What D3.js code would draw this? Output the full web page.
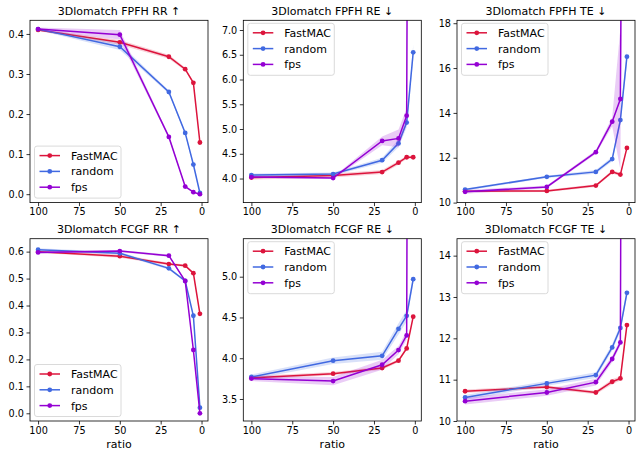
<!DOCTYPE html>
<html>
<head>
<meta charset="utf-8">
<script src="https://cdn.jsdelivr.net/npm/d3@7"></script>
<style>
  body { margin: 0; background: #fff; }
  svg { display: block; font-family: "DejaVu Sans", sans-serif; }
  .tick text { fill: #000; }
</style>
</head>
<body>
<svg id="chart" width="636" height="451"></svg>
<script>
'use strict'

// x values (sampling ratio, %)
const ratios = [100, 50, 20, 10, 5, 1]
const seriesNames = ["FastMAC", "random", "fps"]
const xTicks = [100, 75, 50, 25, 0]

// 3Dlomatch FPFH RR
const fpfhRR_fastmac = [0.410, 0.379, 0.343, 0.312, 0.278, 0.129]
const fpfhRR_random = [0.412, 0.368, 0.255, 0.153, 0.074, 0.003]
const fpfhRR_fps = [0.412, 0.398, 0.143, 0.019, 0.005, 0.000]
const fpfhRR_fastmacStd = [0.003, 0.006, 0.005, 0.004, 0.003, 0.003]
const fpfhRR_randomStd = [0.003, 0.008, 0.004, 0.004, 0.003, 0.002]
const fpfhRR_fpsStd = [0.004, 0.012, 0.004, 0.003, 0.002, 0.001]

// 3Dlomatch FPFH RE
const fpfhRE_fastmac = [4.02, 4.06, 4.13, 4.32, 4.43, 4.43]
const fpfhRE_random = [4.07, 4.09, 4.37, 4.71, 5.13, 6.55]
const fpfhRE_fps = [4.03, 4.01, 4.76, 4.81, 5.27, 40.0]
const fpfhRE_fastmacStd = [0.04, 0.04, 0.04, 0.04, 0.03, 0.03]
const fpfhRE_randomStd = [0.03, 0.03, 0.05, 0.08, 0.10, 0.15]
const fpfhRE_fpsStd = [0.02, 0.02, 0.09, 0.18, 0.15, 5.0]

// 3Dlomatch FPFH TE
const fpfhTE_fastmac = [10.51, 10.52, 10.76, 11.37, 11.25, 12.44]
const fpfhTE_random = [10.58, 11.15, 11.37, 11.94, 13.68, 16.51]
const fpfhTE_fps = [10.48, 10.70, 12.25, 13.61, 14.62, 60.0]
const fpfhTE_fastmacStd = [0.05, 0.05, 0.06, 0.07, 0.08, 0.05]
const fpfhTE_randomStd = [0.05, 0.05, 0.08, 0.10, 0.20, 0.30]
const fpfhTE_fpsStd = [0.08, 0.06, 0.08, 0.20, 3.15, 8.0]

// 3Dlomatch FCGF RR
const fcgfRR_fastmac = [0.600, 0.583, 0.554, 0.548, 0.520, 0.369]
const fcgfRR_random = [0.607, 0.594, 0.538, 0.491, 0.362, 0.021]
const fcgfRR_fps = [0.597, 0.602, 0.585, 0.491, 0.235, 0.000]
const fcgfRR_fastmacStd = [0.004, 0.006, 0.005, 0.004, 0.004, 0.003]
const fcgfRR_randomStd = [0.006, 0.005, 0.005, 0.004, 0.004, 0.003]
const fcgfRR_fpsStd = [0.004, 0.004, 0.004, 0.004, 0.004, 0.001]

// 3Dlomatch FCGF RE
const fcgfRE_fastmac = [3.76, 3.81, 3.88, 3.97, 4.12, 4.51]
const fcgfRE_random = [3.77, 3.97, 4.03, 4.36, 4.52, 4.97]
const fcgfRE_fps = [3.75, 3.72, 3.92, 4.10, 4.28, 30.0]
const fcgfRE_fastmacStd = [0.02, 0.02, 0.02, 0.02, 0.02, 0.02]
const fcgfRE_randomStd = [0.03, 0.04, 0.05, 0.07, 0.07, 0.05]
const fcgfRE_fpsStd = [0.03, 0.05, 0.06, 0.05, 0.05, 4.0]

// 3Dlomatch FCGF TE
const fcgfTE_fastmac = [10.72, 10.82, 10.69, 10.95, 11.03, 12.32]
const fcgfTE_random = [10.57, 10.91, 11.11, 11.78, 12.25, 13.10]
const fcgfTE_fps = [10.48, 10.69, 10.94, 11.50, 11.90, 60.0]
const fcgfTE_fastmacStd = [0.04, 0.04, 0.04, 0.06, 0.05, 0.05]
const fcgfTE_randomStd = [0.06, 0.06, 0.07, 0.08, 0.08, 0.10]
const fcgfTE_fpsStd = [0.08, 0.08, 0.08, 0.08, 0.08, 8.0]

const colors = {FastMAC: "#dc143c", random: "#4169e1", fps: "#9400d3"}

const panels = [
  {title: "3Dlomatch FPFH RR \u2191", col: 0, row: 0, yDomain: [-0.021, 0.434], yTicks: [0, 0.1, 0.2, 0.3, 0.4], fmt: ".1f", legend: "lower",
   values: [fpfhRR_fastmac, fpfhRR_random, fpfhRR_fps], stds: [fpfhRR_fastmacStd, fpfhRR_randomStd, fpfhRR_fpsStd]},
  {title: "3Dlomatch FPFH RE \u2193", col: 1, row: 0, yDomain: [3.514, 7.196], yTicks: [4, 4.5, 5, 5.5, 6, 6.5, 7], fmt: ".1f", legend: "upper",
   values: [fpfhRE_fastmac, fpfhRE_random, fpfhRE_fps], stds: [fpfhRE_fastmacStd, fpfhRE_randomStd, fpfhRE_fpsStd]},
  {title: "3Dlomatch FPFH TE \u2193", col: 2, row: 0, yDomain: [10, 18.13], yTicks: [10, 12, 14, 16, 18], fmt: "d", legend: "upper",
   values: [fpfhTE_fastmac, fpfhTE_random, fpfhTE_fps], stds: [fpfhTE_fastmacStd, fpfhTE_randomStd, fpfhTE_fpsStd]},
  {title: "3Dlomatch FCGF RR \u2191", col: 0, row: 1, yDomain: [-0.0286, 0.648], yTicks: [0, 0.1, 0.2, 0.3, 0.4, 0.5, 0.6], fmt: ".1f", legend: "lower",
   values: [fcgfRR_fastmac, fcgfRR_random, fcgfRR_fps], stds: [fcgfRR_fastmacStd, fcgfRR_randomStd, fcgfRR_fpsStd]},
  {title: "3Dlomatch FCGF RE \u2193", col: 1, row: 1, yDomain: [3.23, 5.466], yTicks: [3.5, 4, 4.5, 5], fmt: ".1f", legend: "upper",
   values: [fcgfRE_fastmac, fcgfRE_random, fcgfRE_fps], stds: [fcgfRE_fastmacStd, fcgfRE_randomStd, fcgfRE_fpsStd]},
  {title: "3Dlomatch FCGF TE \u2193", col: 2, row: 1, yDomain: [10, 14.41], yTicks: [10, 11, 12, 13, 14], fmt: "d", legend: "upper",
   values: [fcgfTE_fastmac, fcgfTE_random, fcgfTE_fps], stds: [fcgfTE_fastmacStd, fcgfTE_randomStd, fcgfTE_fpsStd]}
]

// axes boxes in pixels
const colLeft = [30, 243.3, 457]
const rowTop = [20.3, 238.7]
const axW = 178
const axH = 182.3
const tickFont = 9.7
const titleFont = 11
const labelFont = 11

const svg = d3.select('#chart')
svg.append("rect").attr("width", 636).attr("height", 451).attr("fill", "#fff")

panels.forEach((p, pi) => {
  const g = svg.append("g").attr("transform", "translate(" + colLeft[p.col] + "," + rowTop[p.row] + ")")
  const x = d3.scaleLinear().domain([104.95, -3.95]).range([0, axW])
  const y = d3.scaleLinear().domain(p.yDomain).range([axH, 0])

  const clipId = "clip" + pi
  g.append("clipPath").attr("id", clipId).append("rect").attr("width", axW).attr("height", axH)
  const plot = g.append("g").attr("clip-path", "url(#" + clipId + ")")

  seriesNames.forEach((name, si) => {
    const pts = ratios.map((r, i) => ({r: r, v: p.values[si][i], s: p.stds[si][i]}))
    // std band
    plot.append("path")
      .datum(pts)
      .attr("fill", colors[name])
      .attr("fill-opacity", 0.2)
      .attr("d", d3.area().x(d => x(d.r)).y0(d => y(d.v - d.s)).y1(d => y(d.v + d.s)))
    // mean line
    plot.append("path")
      .datum(pts)
      .attr("fill", "none")
      .attr("stroke", colors[name])
      .attr("stroke-width", 1.5)
      .attr("d", d3.line().x(d => x(d.r)).y(d => y(d.v)))
    plot.selectAll(".m" + si)
      .data(pts)
      .enter().append("circle")
      .attr("class", "m" + si)
      .attr("cx", d => x(d.r))
      .attr("cy", d => y(d.v))
      .attr("r", 2.4)
      .attr("fill", colors[name])
  })

  // x axis
  const xAxis = g.append("g")
    .attr("transform", "translate(0," + axH + ")")
    .call(d3.axisBottom(x).tickValues(xTicks).tickSize(3.5).tickPadding(2.5).tickFormat(d3.format("d")))
  // y axis
  const yAxis = g.append("g")
    .call(d3.axisLeft(y).tickValues(p.yTicks).tickSize(3.5).tickPadding(2.5).tickFormat(d3.format(p.fmt)))
  ;[xAxis, yAxis].forEach(a => {
    a.select(".domain").remove()
    a.selectAll("line").attr("stroke", "#000").attr("stroke-width", 0.8)
    a.selectAll("text").attr("font-size", tickFont).attr("font-family", "DejaVu Sans")
  })

  // frame
  g.append("rect").attr("width", axW).attr("height", axH)
    .attr("fill", "none").attr("stroke", "#000").attr("stroke-width", 0.8)

  // title
  g.append("text")
    .attr("x", axW / 2).attr("y", -5.5)
    .attr("text-anchor", "middle")
    .attr("font-size", titleFont)
    .text(p.title)

  if (p.row === 1) {
    g.append("text")
      .attr("x", axW / 2).attr("y", axH + 27)
      .attr("text-anchor", "middle")
      .attr("font-size", labelFont)
      .text("ratio")
  }

  // legend
  const legW = 86.5
  const legH = 52
  const legX = 4.5
  const legY = p.legend === "upper" ? 3 : axH - legH - 4.5
  const leg = g.append("g").attr("transform", "translate(" + legX + "," + legY + ")")
  leg.append("rect").attr("width", legW).attr("height", legH)
    .attr("rx", 2.5).attr("fill", "#fff").attr("fill-opacity", 0.8)
    .attr("stroke", "#d0d0d0").attr("stroke-width", 0.8)
  seriesNames.forEach((name, si) => {
    const cy = 9.5 + si * 15.8
    leg.append("line").attr("x1", 5).attr("x2", 25.5).attr("y1", cy).attr("y2", cy)
      .attr("stroke", colors[name]).attr("stroke-width", 1.5)
    leg.append("circle").attr("cx", 15.25).attr("cy", cy).attr("r", 2.4).attr("fill", colors[name])
    leg.append("text").attr("x", 36.5).attr("y", cy).attr("dy", "0.36em")
      .attr("font-size", labelFont).text(name)
  })
})
</script>
</body>
</html>
